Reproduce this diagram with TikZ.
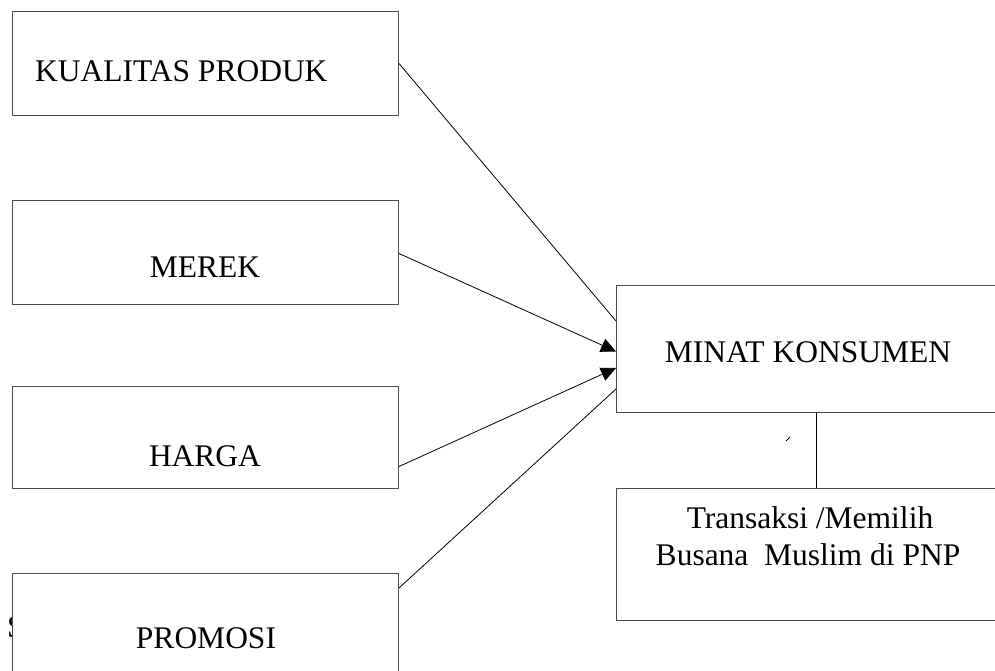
\documentclass[tikz,border=0pt]{standalone}
\usepackage{fontspec}
\setmainfont{Liberation Serif}
\usetikzlibrary{arrows.meta}
\tikzset{
  box/.style={draw=black!70, line width=1pt, fill=white, inner sep=0pt, anchor=north west},
  lbl/.style={inner sep=0pt, anchor=base, font=\fontsize{31.5}{38}\selectfont},
  conn/.style={draw=black, line width=0.8pt},
  arr/.style={conn, -{Triangle[length=15pt,width=14pt]}}
}
\begin{document}
\begin{tikzpicture}[x=1pt,y=-1pt]
\clip (0,0) rectangle (995,671);
\fill[white] (0,0) rectangle (995,671);
% stray glyph partly hidden behind the PROMOSI box
\node[lbl] (s) at (16,637) {S};
% left boxes
\node[box, minimum width=386pt, minimum height=104pt] (kp) at (12,11) {};
\node[box, minimum width=386pt, minimum height=104pt] (mr) at (12,200) {};
\node[box, minimum width=386pt, minimum height=102pt] (hg) at (12,386) {};
\node[box, minimum width=386pt, minimum height=120pt] (pr) at (12,573) {};
% right boxes
\node[box, minimum width=400pt, minimum height=127pt] (mk) at (616,285) {};
\node[box, minimum width=400pt, minimum height=132pt] (tr) at (616,488) {};
% labels
\node[lbl, anchor=base west] (tkp) at (35,82) {KUALITAS PRODUK};
\node[lbl] (tmr) at (205,277) {MEREK};
\node[lbl] (thg) at (205,466) {HARGA};
\node[lbl] (tpr) at (206,648) {PROMOSI};
\node[lbl] (tmk) at (808,362) {MINAT KONSUMEN};
\node[lbl] (ttr1) at (810,528) {Transaksi /Memilih};
\node[lbl] (ttr2) at (808,565) {Busana\ \ Muslim di PNP};
% connectors
\draw[conn] ([yshift=0pt]kp.east) -- ([yshift=28pt]mk.west);
\draw[arr] ([yshift=-1pt]mr.east) -- ([yshift=-2.5pt]mk.west);
\draw[arr] ([yshift=-29pt]hg.east) -- ([yshift=-19pt]mk.west);
\draw[conn] ([yshift=-15pt]pr.north east) -- ([yshift=-40pt]mk.west);
\draw[conn] (mk.south -| 816,0) -- (tr.north -| 816,0);
% small stray tick
\coordinate (tk1) at (786,441);
\coordinate (tk2) at (790,437);
\draw[line width=0.8pt] (tk1) -- (tk2);
\end{tikzpicture}
\end{document}
